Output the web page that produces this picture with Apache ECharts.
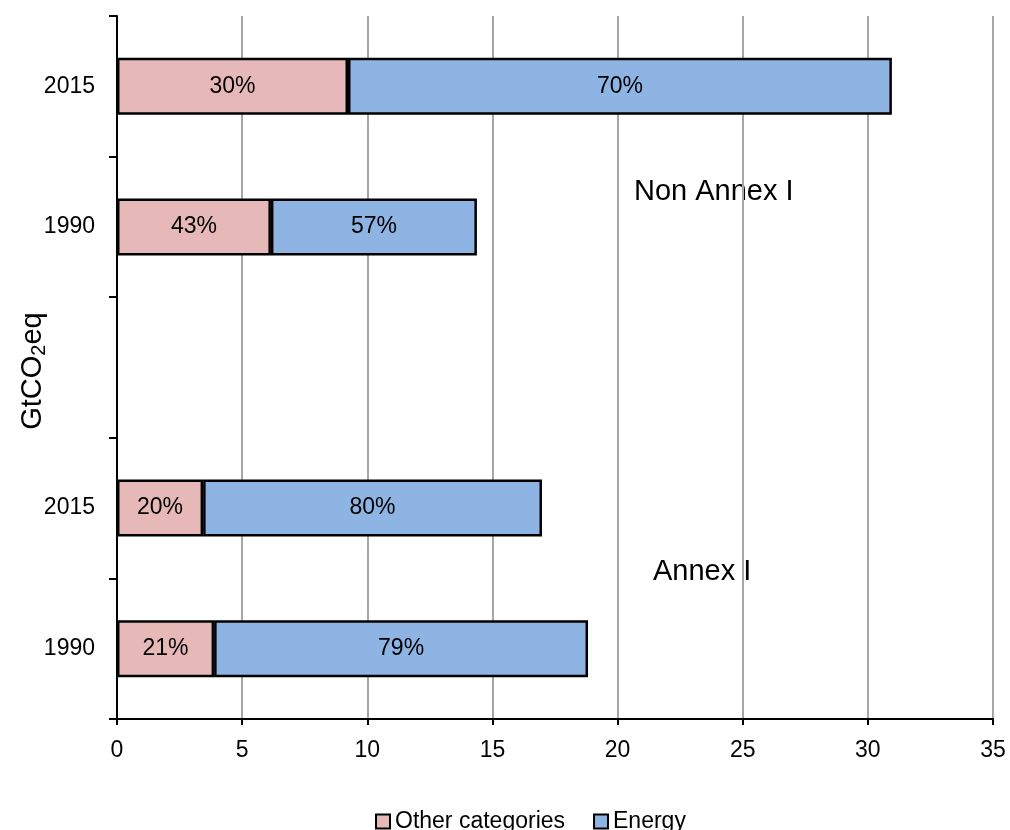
<!DOCTYPE html>
<html>
<head>
<meta charset="utf-8">
<script src="https://cdn.jsdelivr.net/npm/echarts@6/dist/echarts.min.js"></script>
<style>
  html, body { margin: 0; padding: 0; background: #fff; }
  #chart { width: 1010px; height: 830px; }
</style>
</head>
<body>
<div id="chart"></div>
<script>
// Category slots from bottom to top: Annex I (1990, 2015), a spacer, Non Annex I (1990, 2015)
const categories = ['1990', '2015', '', '1990', '2015'];
// Emissions in GtCO2eq
const otherCategories = [3.88, 3.44, null, 6.15, 9.23];
const energy = [14.94, 13.54, null, 8.23, 21.73];
const xTicks = { min: 0, max: 35, interval: 5 };

const FONT = 'Liberation Sans, Arial, sans-serif';

// Label each segment with its share of the bar total
function shareLabel(p) {
  const i = p.dataIndex;
  const total = (otherCategories[i] || 0) + (energy[i] || 0);
  if (!total || p.value == null) return '';
  return Math.round(p.value / total * 100) + '%';
}

const chart = echarts.init(document.getElementById('chart'), null, { renderer: 'canvas' });

chart.setOption({
  animation: false,
  backgroundColor: '#ffffff',
  textStyle: { fontFamily: FONT },
  grid: { left: 117, right: 17, top: 16, bottom: 111, containLabel: false, outerBoundsMode: 'none' },
  xAxis: {
    type: 'value',
    min: xTicks.min,
    max: xTicks.max,
    interval: xTicks.interval,
    axisLine: { show: true, lineStyle: { color: '#000', width: 2 } },
    axisTick: { show: true, length: 6, lineStyle: { color: '#000', width: 2 } },
    axisLabel: { color: '#000', fontSize: 23, fontFamily: FONT, margin: 20 },
    splitLine: { show: true, lineStyle: { color: '#a6a6a6', width: 2 } }
  },
  yAxis: {
    type: 'category',
    data: categories,
    axisLine: { show: true, lineStyle: { color: '#000', width: 2 } },
    axisTick: { show: true, length: 8, lineStyle: { color: '#000', width: 2 } },
    axisLabel: { color: '#000', fontSize: 23, fontFamily: FONT, margin: 22 },
    splitLine: { show: false }
  },
  legend: {
    left: 370,
    top: 805,
    itemWidth: 14,
    itemHeight: 14,
    itemGap: 28,
    icon: 'rect',
    textStyle: { color: '#000', fontSize: 23, fontFamily: FONT },
    data: ['Other categories', 'Energy']
  },
  series: [
    {
      name: 'Other categories',
      type: 'bar',
      stack: 'total',
      barWidth: 57,
      data: otherCategories,
      itemStyle: { color: '#e6b9b8', borderColor: '#000', borderWidth: 2.5 },
      label: { show: true, position: 'inside', color: '#000', fontSize: 23, fontFamily: FONT, formatter: shareLabel }
    },
    {
      name: 'Energy',
      type: 'bar',
      stack: 'total',
      barWidth: 57,
      data: energy,
      itemStyle: { color: '#8eb4e3', borderColor: '#000', borderWidth: 2.5 },
      label: { show: true, position: 'inside', color: '#000', fontSize: 23, fontFamily: FONT, formatter: shareLabel }
    }
  ],
  graphic: [
    // Vertical axis title with subscript
    {
      type: 'text',
      x: 33,
      y: 371,
      rotation: Math.PI / 2,
      style: {
        text: '{a|GtCO}{b|2}{a|eq}',
        align: 'center',
        verticalAlign: 'middle',
        rich: {
          a: { fontSize: 29, fill: '#000', fontFamily: FONT },
          b: { fontSize: 20, fill: '#000', fontFamily: FONT, verticalAlign: 'bottom', padding: [12, 0, 0, 0] }
        }
      }
    },
    { type: 'text', left: 634, top: 177, style: { text: 'Non Annex I', font: '29px ' + FONT, fill: '#000' } },
    { type: 'text', left: 653, top: 557, style: { text: 'Annex I', font: '29px ' + FONT, fill: '#000' } }
  ]
});
</script>
</body>
</html>
